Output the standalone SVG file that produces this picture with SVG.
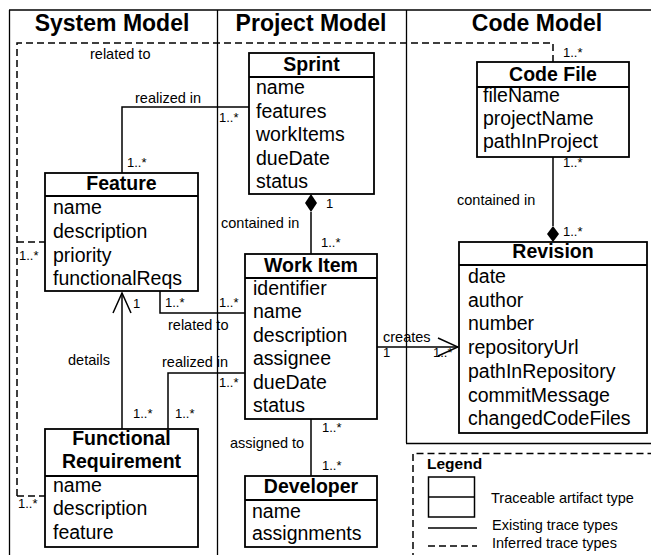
<svg xmlns="http://www.w3.org/2000/svg" width="651" height="555" viewBox="0 0 651 555">
<style>
text{font-family:"Liberation Sans",Arial,Helvetica,sans-serif;fill:#000}
.title{font-size:23px;font-weight:bold;text-anchor:middle}
.hdr{font-size:19.5px;font-weight:bold;text-anchor:middle}
.attr{font-size:19.5px}
.lbl{font-size:14.5px}
.mul{font-size:13px}
.box{fill:#fff;stroke:#000;stroke-width:1.8}
.sep{stroke:#000;stroke-width:1.8}
.frame{stroke:#000;stroke-width:1.3;fill:none}
.solid{stroke:#000;stroke-width:1.5;fill:none}
.dash{stroke:#000;stroke-width:1.5;fill:none;stroke-dasharray:7 4}
.leg{font-size:14.5px}
</style>
<defs>
<marker id="open" viewBox="0 0 22 20" refX="21" refY="10" markerWidth="22" markerHeight="20" markerUnits="userSpaceOnUse" orient="auto">
<path d="M1,1 L21,10 L1,19" fill="none" stroke="#000" stroke-width="1.5"/>
</marker>
</defs>
<g id="frame">
<line class="frame" x1="9" y1="10" x2="651" y2="10"/>
<line class="frame" x1="9.5" y1="10" x2="9.5" y2="555"/>
<line class="frame" x1="217.5" y1="10" x2="217.5" y2="555"/>
<line class="frame" x1="406.5" y1="10" x2="406.5" y2="443"/>
<line class="frame" x1="406" y1="443.5" x2="651" y2="443.5"/>
<text class="title" x="112" y="31">System Model</text>
<text class="title" x="311" y="31">Project Model</text>
<text class="title" x="537" y="31">Code Model</text>
</g>
<g id="connectors">
<path class="dash" d="M17,496 L17,43 L553,43 L553,62"/>
<path class="dash" d="M17,242 L45,242"/>
<path class="dash" d="M17,496 L45,496"/>
<path class="solid" d="M122,173 L122,107 L249,107"/>
<path class="solid" d="M160,291 L160,313 L245,313"/>
<path class="solid" d="M168,429 L168,373 L245,373"/>
<path class="solid" d="M122,429 L122,293" marker-end="url(#open)"/>
<path class="solid" d="M311,212 L311,254"/>
<path d="M311,194 L317,203 L311,212 L305,203 Z" fill="#000"/>
<path class="solid" d="M311,419 L311,476"/>
<path class="solid" d="M377,347 L458,347" marker-end="url(#open)"/>
<path class="solid" d="M553,157 L553,226"/>
<path d="M553,226 L559,234 L553,242 L547,234 Z" fill="#000"/>
<text class="lbl" x="90" y="59">related to</text>
<text class="lbl" x="135" y="103">realized in</text>
<text class="mul" x="127" y="167">1..*</text>
<text class="mul" x="219" y="122">1..*</text>
<text class="mul" x="563" y="57">1..*</text>
<text class="mul" x="563" y="167">1..*</text>
<text class="lbl" x="457" y="205">contained in</text>
<text class="mul" x="563" y="236">1..*</text>
<text class="mul" x="326" y="208">1</text>
<text class="lbl" x="221" y="228">contained in</text>
<text class="mul" x="321" y="247">1..*</text>
<text class="mul" x="165" y="307">1..*</text>
<text class="mul" x="219" y="307">1..*</text>
<text class="lbl" x="168" y="330">related to</text>
<text class="lbl" x="162" y="367">realized in</text>
<text class="mul" x="219" y="387">1..*</text>
<text class="mul" x="133" y="418">1..*</text>
<text class="mul" x="175" y="418">1..*</text>
<text class="mul" x="133" y="308">1</text>
<text class="lbl" x="68" y="365">details</text>
<text class="mul" x="19" y="260">1..*</text>
<text class="mul" x="18" y="508">1..*</text>
<text class="lbl" x="383" y="342">creates</text>
<text class="mul" x="383" y="357">1</text>
<text class="mul" x="433" y="357">1..*</text>
<text class="lbl" x="230" y="448">assigned to</text>
<text class="mul" x="322" y="432">1..*</text>
<text class="mul" x="322" y="470">1..*</text>
</g>
<g id="feature">
<rect class="box" x="45" y="173" width="153" height="118"/>
<line class="sep" x1="45" y1="196" x2="198" y2="196"/>
<text class="hdr" x="121.5" y="190">Feature</text>
<text class="attr" x="53" y="214">name</text>
<text class="attr" x="53" y="238">description</text>
<text class="attr" x="53" y="262">priority</text>
<text class="attr" x="53" y="285">functionalReqs</text>
</g>
<g id="sprint">
<rect class="box" x="249" y="53" width="125" height="141"/>
<line class="sep" x1="249" y1="77" x2="374" y2="77"/>
<text class="hdr" x="311.5" y="71">Sprint</text>
<text class="attr" x="256" y="94">name</text>
<text class="attr" x="256" y="118">features</text>
<text class="attr" x="256" y="141">workItems</text>
<text class="attr" x="256" y="165">dueDate</text>
<text class="attr" x="256" y="188">status</text>
</g>
<g id="workitem">
<rect class="box" x="245" y="254" width="132" height="165"/>
<line class="sep" x1="245" y1="278" x2="377" y2="278"/>
<text class="hdr" x="311" y="272">Work Item</text>
<text class="attr" x="253" y="295">identifier</text>
<text class="attr" x="253" y="318">name</text>
<text class="attr" x="253" y="342">description</text>
<text class="attr" x="253" y="365">assignee</text>
<text class="attr" x="253" y="389">dueDate</text>
<text class="attr" x="253" y="412">status</text>
</g>
<g id="codefile">
<rect class="box" x="477" y="62" width="152" height="95"/>
<line class="sep" x1="477" y1="87" x2="629" y2="87"/>
<text class="hdr" x="553" y="81">Code File</text>
<text class="attr" x="483" y="102">fileName</text>
<text class="attr" x="483" y="125">projectName</text>
<text class="attr" x="483" y="148">pathInProject</text>
</g>
<g id="revision">
<rect class="box" x="459" y="242" width="188" height="191"/>
<line class="sep" x1="459" y1="265" x2="647" y2="265"/>
<text class="hdr" x="553" y="258">Revision</text>
<text class="attr" x="468" y="283">date</text>
<text class="attr" x="468" y="307">author</text>
<text class="attr" x="468" y="330">number</text>
<text class="attr" x="468" y="354">repositoryUrl</text>
<text class="attr" x="468" y="378">pathInRepository</text>
<text class="attr" x="468" y="402">commitMessage</text>
<text class="attr" x="468" y="425">changedCodeFiles</text>
</g>
<g id="functionalrequirement">
<rect class="box" x="45" y="429" width="153" height="118"/>
<line class="sep" x1="45" y1="476" x2="198" y2="476"/>
<text class="hdr" x="121.5" y="445">Functional</text>
<text class="hdr" x="121.5" y="468">Requirement</text>
<text class="attr" x="53" y="492">name</text>
<text class="attr" x="53" y="515">description</text>
<text class="attr" x="53" y="539">feature</text>
</g>
<g id="developer">
<rect class="box" x="245" y="476" width="132" height="71"/>
<line class="sep" x1="245" y1="500" x2="377" y2="500"/>
<text class="hdr" x="311" y="493">Developer</text>
<text class="attr" x="252" y="518">name</text>
<text class="attr" x="252" y="540">assignments</text>
</g>
<g id="legend">
<path class="dash" d="M413,560 L413,453.5 L651,453.5" stroke-width="1.2"/>
<text x="427" y="469" style="font-size:15.5px;font-weight:bold">Legend</text>
<rect x="428.5" y="477" width="46" height="40" fill="#fff" stroke="#000" stroke-width="1.5"/>
<line x1="428.5" y1="497" x2="474.5" y2="497" stroke="#000" stroke-width="1.5"/>
<text class="leg" x="491" y="503">Traceable artifact type</text>
<line class="solid" x1="428" y1="528" x2="477" y2="528"/>
<text class="leg" x="492" y="530">Existing trace types</text>
<line class="dash" x1="428" y1="546" x2="477" y2="546"/>
<text class="leg" x="492" y="548">Inferred trace types</text>
</g>
</svg>
